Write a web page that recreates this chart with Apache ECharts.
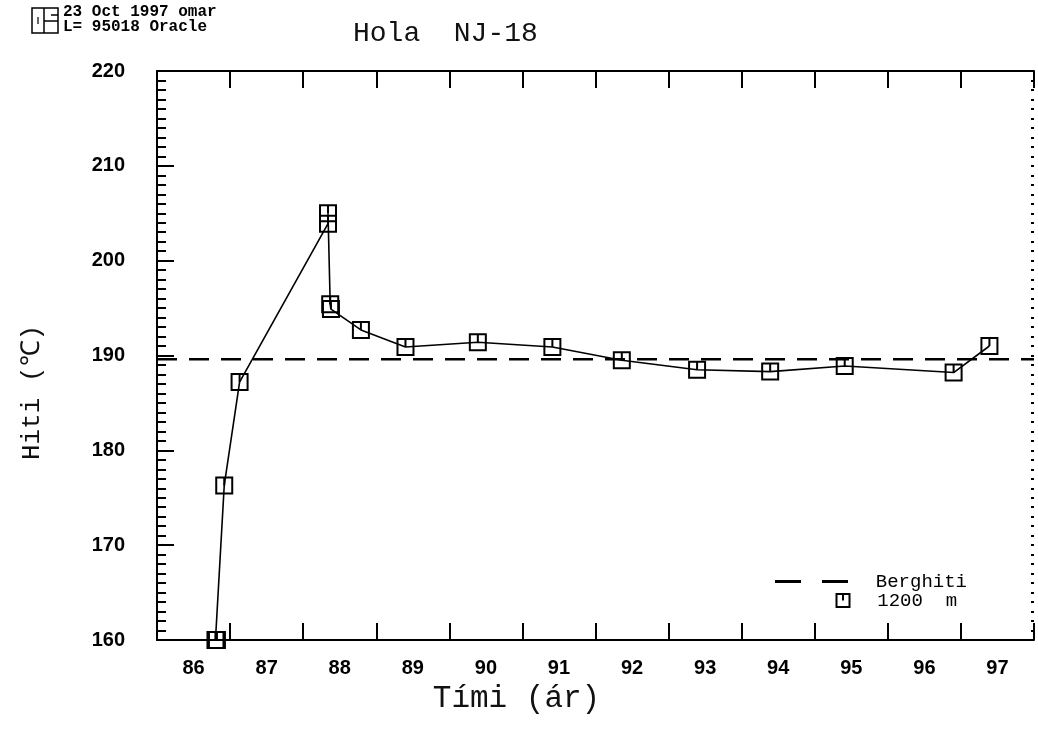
<!DOCTYPE html>
<html>
<head>
<meta charset="utf-8">
<script src="https://cdn.jsdelivr.net/npm/echarts@6/dist/echarts.min.js"></script>
<style>
  html, body { margin: 0; padding: 0; background: #fff; }
  #main { width: 1038px; height: 742px; }
</style>
</head>
<body>
<div id="main"></div>
<script>
// árs-merki á x-ás (miðja hvers árs)
const yearLabels = ['86', '87', '88', '89', '90', '91', '92', '93', '94', '95', '96', '97'];
// mælingar 1200 m
const obsYears = [86.80, 86.82, 86.92, 87.13, 88.34, 88.34, 88.37, 88.38, 88.79, 89.40, 90.39, 91.41, 92.36, 93.39, 94.39, 95.41, 96.90, 97.39];
const obsTemps = [160.0, 160.0, 176.3, 187.2, 203.9, 205.0, 195.4, 194.9, 192.7, 190.9, 191.4, 190.9, 189.5, 188.5, 188.3, 188.9, 188.2, 191.0];
// berghiti
const baseYears = [86, 98];
const baseTemps = [189.6, 189.6];

const chart = echarts.init(document.getElementById('main'));

const monoFont = '"Liberation Mono", "DejaVu Sans Mono", monospace';
const numFont = '"Liberation Sans", Arial, sans-serif';
const squareIcon = 'path://M0,0H10V10H0Z M5,0V5';

const obsData = obsYears.map((x, i) => [x, obsTemps[i]]);
const baseData = baseYears.map((x, i) => [x, baseTemps[i]]);

const option = {
  animation: false,
  backgroundColor: '#fff',
  title: {
    text: 'Hola  NJ-18',
    left: 348,
    top: 15,
    textStyle: { fontFamily: monoFont, fontSize: 28, fontWeight: 'normal', color: '#111' }
  },
  graphic: [
    // stimpill efst til vinstri
    { type: 'rect', shape: { x: 32, y: 8, width: 26, height: 25 }, style: { fill: 'none', stroke: '#000', lineWidth: 1.5 } },
    { type: 'line', shape: { x1: 44, y1: 8, x2: 44, y2: 33 }, style: { stroke: '#000', lineWidth: 1.5 } },
    { type: 'line', shape: { x1: 38, y1: 17, x2: 38, y2: 24 }, style: { stroke: '#000', lineWidth: 1.2 } },
    { type: 'line', shape: { x1: 44, y1: 21, x2: 58, y2: 21 }, style: { stroke: '#000', lineWidth: 1.5 } },
    { type: 'line', shape: { x1: 51, y1: 15, x2: 58, y2: 15 }, style: { stroke: '#000', lineWidth: 1.5 } },
    { type: 'text', left: 63, top: 4, style: { text: '23 Oct 1997 omar', font: 'bold 16px ' + monoFont, fill: '#000' } },
    { type: 'text', left: 63, top: 19, style: { text: 'L= 95018 Oracle', font: 'bold 16px ' + monoFont, fill: '#000' } }
  ],
  legend: [
    {
      left: 770, top: 567,
      itemWidth: 73, itemHeight: 3,
      data: [{ name: 'Berghiti', icon: 'path://M0,0H26V3H0Z M47,0H73V3H47Z' }],
      formatter: name => '  ' + name,
      textStyle: { fontFamily: monoFont, fontSize: 19, color: '#000' }
    },
    {
      left: 829, top: 586,
      itemWidth: 13, itemHeight: 13,
      data: [{ name: '1200 m', icon: squareIcon }],
      formatter: () => '  1200  m',
      textStyle: { fontFamily: monoFont, fontSize: 19, color: '#000' }
    }
  ],
  grid: { left: 157, right: 4, top: 71, bottom: 102 },
  xAxis: [
    {
      // merki í miðju ára
      type: 'category',
      data: yearLabels,
      boundaryGap: true,
      position: 'bottom',
      axisLine: { show: false },
      axisTick: { show: false },
      axisLabel: { margin: 18, fontFamily: numFont, fontWeight: 'bold', fontSize: 20, color: '#000' },
      name: 'Tími (ár)',
      nameLocation: 'middle',
      nameGap: 40,
      nameTextStyle: { fontFamily: monoFont, fontSize: 31, color: '#111', padding: [0, 158, 0, 0] }
    },
    {
      type: 'value',
      min: 86, max: 98, interval: 1,
      position: 'bottom',
      axisLine: { show: true, lineStyle: { color: '#000', width: 2 } },
      axisTick: { show: true, inside: true, length: 17, lineStyle: { color: '#000', width: 2 } },
      axisLabel: { show: false },
      splitLine: { show: false }
    },
    {
      type: 'value',
      min: 86, max: 98, interval: 1,
      position: 'top',
      axisLine: { show: true, lineStyle: { color: '#000', width: 2 } },
      axisTick: { show: true, inside: true, length: 17, lineStyle: { color: '#000', width: 2 } },
      axisLabel: { show: false },
      splitLine: { show: false }
    }
  ],
  yAxis: [
    {
      type: 'value',
      min: 160, max: 220, interval: 10,
      position: 'left',
      axisLine: { show: true, lineStyle: { color: '#000', width: 2 } },
      axisTick: { show: true, inside: true, length: 17, lineStyle: { color: '#000', width: 2 } },
      minorTick: { show: true, splitNumber: 10, length: 9, lineStyle: { color: '#000', width: 2 } },
      axisLabel: { margin: 32, fontFamily: numFont, fontWeight: 'bold', fontSize: 20, color: '#000' },
      splitLine: { show: false },
      name: 'Hiti (℃)',
      nameLocation: 'middle',
      nameGap: 112,
      nameTextStyle: { fontFamily: monoFont, fontSize: 26, color: '#111', padding: [0, 74, 0, 0] }
    },
    {
      type: 'value',
      min: 160, max: 220, interval: 1,
      position: 'right',
      axisLine: { show: false },
      axisTick: { show: true, inside: true, length: 3, lineStyle: { color: '#000', width: 2 } },
      axisLabel: { show: false },
      splitLine: { show: false }
    }
  ],
  series: [
    {
      name: 'Berghiti',
      type: 'line',
      xAxisIndex: 1,
      yAxisIndex: 0,
      data: baseData,
      showSymbol: false,
      color: '#000',
      lineStyle: { color: '#000', width: 2.5, type: [20, 12] },
      silent: true
    },
    {
      name: '1200 m',
      type: 'line',
      xAxisIndex: 1,
      yAxisIndex: 0,
      data: obsData,
      clip: false,
      symbol: squareIcon,
      symbolSize: 16,
      showAllSymbol: true,
      color: '#000',
      itemStyle: { color: 'none', borderColor: '#000', borderWidth: 2 },
      lineStyle: { color: '#000', width: 1.6 }
    }
  ]
};

chart.setOption(option);
</script>
</body>
</html>
